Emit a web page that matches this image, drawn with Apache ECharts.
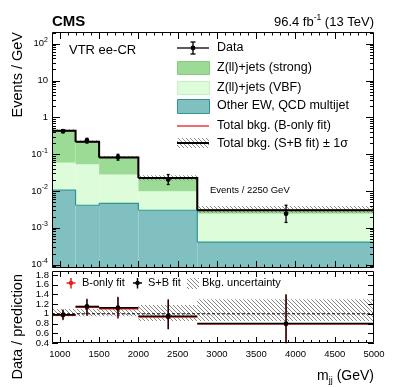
<!DOCTYPE html>
<html>
<head>
<meta charset="utf-8">
<script src="https://cdn.jsdelivr.net/npm/echarts@6/dist/echarts.min.js"></script>
<style>
html, body { margin: 0; padding: 0; background: #fff; }
#main { width: 399px; height: 387px; }
</style>
</head>
<body>
<div id="main"></div>
<script>
// m_jj bin edges (GeV)
var binEdges = [900, 1200, 1500, 2000, 2750, 5000];

// backgrounds after S+B fit, events / GeV (stacked bottom to top)
var otherEW   = [0.0105, 0.0041, 0.0046, 0.0030, 0.00041];
var zllVBF    = [0.0485, 0.049, 0.0235, 0.0068, 0.0020];
var zllStrong = [0.371, 0.163, 0.053, 0.0128, 0.0006];
// total background, B-only fit
var totalBonly = [0.436, 0.219, 0.082, 0.0229, 0.00305];
// S+B fit uncertainty (relative, low / high)
var bandLo = [0.95, 0.95, 0.95, 0.85, 0.85];
var bandHi = [1.10, 1.10, 1.10, 1.18, 1.30];

// data
var dataX  = [1040, 1345, 1740, 2380, 3880];
var dataY  = [0.42, 0.235, 0.083, 0.0205, 0.0024];
var dataUp = [0.46, 0.27, 0.099, 0.028, 0.0041];
var dataDn = [0.38, 0.20, 0.069, 0.015, 0.0014];

// data / prediction
var ratioSB   = [0.98, 1.15, 1.125, 0.95, 0.80];
var ratioSBUp = [1.09, 1.31, 1.35, 1.30, 1.40];
var ratioSBDn = [0.88, 0.97, 0.92, 0.69, 0.40];
var ratioB    = [0.97, 1.135, 1.105, 0.935, 0.79];

// axis ticks
var xLabels = [1000, 1500, 2000, 2500, 3000, 3500, 4000, 4500, 5000];
var yLogMajor = [1e-4, 1e-3, 1e-2, 1e-1, 1, 10, 100];
var ratioTicks = [0.4, 0.6, 0.8, 1.0, 1.2, 1.4, 1.6, 1.8];

var X_MIN = 900, X_MAX = 5000;
var Y_MIN = 8.1e-5, Y_MAX = 208;
var R_MIN = 0.4, R_MAX = 1.88;
var FONT = '"Liberation Sans", Arial, Helvetica, sans-serif';

var C_STRONG = '#9cdb95', C_VBF = '#ddfcda', C_OTHER = '#80c0c0', C_OTHER_LINE = '#2e9494';
var C_RED = '#e3201b';

function hatch(color) {
    var c = document.createElement('canvas');
    c.width = 4; c.height = 4;
    var g = c.getContext('2d');
    g.strokeStyle = color;
    g.lineWidth = 0.9;
    g.beginPath();
    g.moveTo(-1, -1); g.lineTo(5, 5);
    g.moveTo(3, -1); g.lineTo(5, 1);
    g.moveTo(-1, 3); g.lineTo(1, 5);
    g.stroke();
    return c;
}
var HATCH = { image: hatch('#7a7a7a'), repeat: 'repeat' };

// stacked tops
var nb = otherEW.length;
var topOther = [], topVBF = [], topTotal = [];
for (var i = 0; i < nb; i++) {
    topOther.push(otherEW[i]);
    topVBF.push(otherEW[i] + zllVBF[i]);
    topTotal.push(otherEW[i] + zllVBF[i] + zllStrong[i]);
}

function rectData(lows, highs) {
    return lows.map(function (lo, i) {
        return [binEdges[i], binEdges[i + 1], lo, highs[i]];
    });
}

function rectSeries(data, fill, axis, z) {
    return {
        type: 'custom', xAxisIndex: axis, yAxisIndex: axis, z: z, silent: true,
        encode: { x: [0, 1], y: [2, 3] },
        data: data,
        renderItem: function (params, api) {
            var p0 = api.coord([api.value(0), api.value(3)]);
            var p1 = api.coord([api.value(1), api.value(2)]);
            return {
                type: 'rect',
                shape: { x: p0[0], y: p0[1], width: p1[0] - p0[0], height: p1[1] - p0[1] },
                style: { fill: fill }
            };
        }
    };
}

function stepSeries(tops, color, width, axis, z) {
    var data = tops.map(function (t, i) {
        var next = i < tops.length - 1 ? tops[i + 1] : t;
        return [binEdges[i], binEdges[i + 1], t, next];
    });
    return {
        type: 'custom', xAxisIndex: axis, yAxisIndex: axis, z: z, silent: true,
        encode: { x: [0, 1], y: [2, 3] },
        data: data,
        renderItem: function (params, api) {
            var a = api.coord([api.value(0), api.value(2)]);
            var b = api.coord([api.value(1), api.value(2)]);
            var c = api.coord([api.value(1), api.value(3)]);
            return {
                type: 'polyline',
                shape: { points: [a, b, c] },
                style: { stroke: color, lineWidth: width, fill: 'none' }
            };
        }
    };
}

// points with vertical errors; optional horizontal bin-width bar
function pointSeries(xs, ys, lo, hi, color, axis, z, withBins, caps) {
    var data = xs.map(function (x, i) {
        return [x, ys[i], lo[i], hi[i], binEdges[i], binEdges[i + 1]];
    });
    return {
        type: 'custom', xAxisIndex: axis, yAxisIndex: axis, z: z, silent: true,
        encode: { x: 0, y: [1, 2, 3] },
        data: data,
        renderItem: function (params, api) {
            var c = api.coord([api.value(0), api.value(1)]);
            var t = api.coord([api.value(0), api.value(3)]);
            var b = api.coord([api.value(0), api.value(2)]);
            var st = { stroke: color, lineWidth: 1.3 };
            var kids = [
                { type: 'line', shape: { x1: c[0], y1: t[1], x2: c[0], y2: b[1] }, style: st }
            ];
            if (caps) {
                kids.push({ type: 'line', shape: { x1: c[0] - 1.5, y1: t[1], x2: c[0] + 1.5, y2: t[1] }, style: st });
                kids.push({ type: 'line', shape: { x1: c[0] - 1.5, y1: b[1], x2: c[0] + 1.5, y2: b[1] }, style: st });
            }
            if (withBins) {
                var l = api.coord([api.value(4), api.value(1)]);
                var r = api.coord([api.value(5), api.value(1)]);
                kids.push({ type: 'line', shape: { x1: l[0], y1: c[1], x2: r[0], y2: c[1] }, style: { stroke: color, lineWidth: 1.6 } });
            }
            kids.push({ type: 'circle', shape: { cx: c[0], cy: c[1], r: 2.4 }, style: { fill: color } });
            return { type: 'group', children: kids };
        }
    };
}

// ticks and frame: [x, y, kind(0=x tick,1=y tick,2=frame,3=y tick with label), length]
function tickSeries(data, axis) {
    return {
        type: 'custom', xAxisIndex: axis, yAxisIndex: axis, z: 20, silent: true,
        data: data,
        renderItem: function (params, api) {
            var cs = params.coordSys;
            var kind = api.value(2), len = api.value(3);
            var st = { stroke: '#000', lineWidth: 1 };
            if (kind === 2) {
                return { type: 'rect', shape: { x: cs.x + 0.5, y: cs.y + 0.5, width: cs.width - 1, height: cs.height - 1 },
                         style: { fill: 'none', stroke: '#000', lineWidth: 1 } };
            }
            var p = api.coord([api.value(0), api.value(1)]);
            if (kind === 0) {
                var x = Math.round(p[0]) + 0.5, yb = cs.y + cs.height, yt = cs.y;
                return { type: 'group', children: [
                    { type: 'line', shape: { x1: x, y1: yb, x2: x, y2: yb - len }, style: st },
                    { type: 'line', shape: { x1: x, y1: yt, x2: x, y2: yt + len }, style: st }
                ] };
            }
            var y = Math.round(p[1]) + 0.5, xl = cs.x, xr = cs.x + cs.width;
            var kids = [
                { type: 'line', shape: { x1: xl, y1: y, x2: xl + len, y2: y }, style: st },
                { type: 'line', shape: { x1: xr, y1: y, x2: xr - len, y2: y }, style: st }
            ];
            if (kind === 3) {
                var v = api.value(1);
                kids.push({ type: 'text', x: xl - 3, y: p[1], style: {
                    text: Math.abs(v - 1) < 1e-6 ? '1' : v.toFixed(1),
                    font: '9.5px ' + FONT, fill: '#000', align: 'right', verticalAlign: 'middle' } });
            }
            return { type: 'group', children: kids };
        }
    };
}

var ticksTop = [[X_MIN, Y_MIN, 2, 0]], ticksRatio = [[X_MIN, R_MIN, 2, 0]];
for (var xv = 1000; xv < X_MAX; xv += 100) {
    var major = xv % 500 === 0;
    ticksTop.push([xv, Y_MIN, 0, major ? 7 : 3.5]);
    ticksRatio.push([xv, R_MIN, 0, major ? 6 : 3]);
}
yLogMajor.forEach(function (v) {
    ticksTop.push([X_MIN, v, 1, 8]);
    for (var k = 2; k <= 9; k++) {
        if (v * k < Y_MAX) ticksTop.push([X_MIN, v * k, 1, 4]);
    }
});
ticksTop.push([X_MIN, 9e-5, 1, 4]);
ratioTicks.forEach(function (v) { ticksRatio.push([X_MIN, v, 3, 6]); });

var labelFont = { fontFamily: FONT, fontSize: 9.5, color: '#000' };

var option = {
    animation: false,
    backgroundColor: '#fff',
    grid: [
        { left: 52, top: 32, width: 322, height: 236 },
        { left: 52, top: 271, width: 322, height: 72 }
    ],
    xAxis: [
        { gridIndex: 0, type: 'value', min: X_MIN, max: X_MAX,
          axisLine: { show: false }, axisTick: { show: false }, splitLine: { show: false }, axisLabel: { show: false } },
        { gridIndex: 1, type: 'value', min: X_MIN, max: X_MAX,
          axisLine: { show: false }, axisTick: { show: false }, splitLine: { show: false },
          axisLabel: Object.assign({
              customValues: xLabels, margin: 6, showMinLabel: true, showMaxLabel: true, hideOverlap: false,
              formatter: function (v) { return String(Math.round(v)); }
          }, labelFont) }
    ],
    yAxis: [
        { gridIndex: 0, type: 'log', logBase: 10, min: Y_MIN, max: Y_MAX,
          axisLine: { show: false }, axisTick: { show: false }, splitLine: { show: false },
          axisLabel: Object.assign({
              margin: 4,
              formatter: function (v) {
                  var l = Math.log10(v), e = Math.round(l);
                  if (Math.abs(l - e) > 1e-6) return '';
                  if (e === 0) return '1';
                  if (e === 1) return '10';
                  return '{b|10}{s|' + e + '}';
              },
              rich: {
                  b: { fontFamily: FONT, fontSize: 9.5, color: '#000', lineHeight: 14 },
                  s: { fontFamily: FONT, fontSize: 7, color: '#000', lineHeight: 8, verticalAlign: 'top' }
              }
          }, labelFont) },
        { gridIndex: 1, type: 'value', min: R_MIN, max: R_MAX,
          axisLine: { show: false }, axisTick: { show: false }, splitLine: { show: false },
          axisLabel: { show: false } }
    ],
    series: [
        rectSeries(rectData(otherEW.map(function () { return Y_MIN; }), topOther), C_OTHER, 0, 2),
        rectSeries(rectData(topOther, topVBF), C_VBF, 0, 2),
        rectSeries(rectData(topVBF, topTotal), C_STRONG, 0, 2),
        stepSeries(topOther, C_OTHER_LINE, 1.2, 0, 3),
        rectSeries(rectData(topTotal.map(function (t, i) { return t * bandLo[i]; }),
                            topTotal.map(function (t, i) { return t * bandHi[i]; })), HATCH, 0, 4),
        stepSeries(totalBonly, C_RED, 1.2, 0, 5),
        stepSeries(topTotal, '#000', 2, 0, 6),
        pointSeries(dataX, dataY, dataDn, dataUp, '#000', 0, 7, false, true),

        rectSeries(rectData(bandLo, bandHi), HATCH, 1, 2),
        { type: 'line', xAxisIndex: 1, yAxisIndex: 1, z: 3, silent: true, symbol: 'none',
          data: [[X_MIN, 1], [X_MAX, 1]],
          lineStyle: { color: '#000', width: 1, type: [3, 2] } },
        pointSeries(dataX, ratioB, ratioSBDn.map(function (v, i) { return v - (ratioSB[i] - ratioB[i]); }),
                    ratioSBUp.map(function (v, i) { return v - (ratioSB[i] - ratioB[i]); }), C_RED, 1, 5, true, false),
        pointSeries(dataX, ratioSB, ratioSBDn, ratioSBUp, '#000', 1, 6, true, false),

        tickSeries(ticksTop, 0),
        tickSeries(ticksRatio, 1)
    ],
    graphic: [
        { type: 'text', x: 52, y: 22, style: { text: 'CMS', font: 'bold 15px ' + FONT, fill: '#000', align: 'left', verticalAlign: 'middle' } },
        { type: 'text', x: 374, y: 22, style: {
            text: '{t|96.4 fb}{s|-1}{t| (13 TeV)}', align: 'right', verticalAlign: 'middle',
            rich: { t: { fontFamily: FONT, fontSize: 13, fill: '#000', lineHeight: 17 },
                    s: { fontFamily: FONT, fontSize: 8.5, fill: '#000', lineHeight: 9, verticalAlign: 'top' } } } },
        { type: 'text', x: 69, y: 50, style: { text: 'VTR ee-CR', font: '13px ' + FONT, fill: '#000', align: 'left', verticalAlign: 'middle' } },
        { type: 'text', x: 210, y: 190, style: { text: 'Events / 2250 GeV', font: '9.5px ' + FONT, fill: '#000', align: 'left', verticalAlign: 'middle' } },
        { type: 'text', x: 18, y: 32, rotation: Math.PI / 2, style: { text: 'Events / GeV', font: '14.5px ' + FONT, fill: '#000', align: 'right', verticalAlign: 'middle' } },
        { type: 'text', x: 18, y: 274, rotation: Math.PI / 2, style: { text: 'Data / prediction', font: '14.5px ' + FONT, fill: '#000', align: 'right', verticalAlign: 'middle' } },
        { type: 'text', x: 374, y: 376, style: {
            text: '{m|m}{u|jj}{m| (GeV)}', align: 'right', verticalAlign: 'middle',
            rich: { m: { fontFamily: FONT, fontSize: 14, fill: '#000', lineHeight: 18 },
                    u: { fontFamily: FONT, fontSize: 9, fill: '#000', lineHeight: 9, verticalAlign: 'bottom' } } } },

        // main legend
        { type: 'line', shape: { x1: 177, y1: 48, x2: 209, y2: 48 }, style: { stroke: '#000', lineWidth: 1.3 } },
        { type: 'line', shape: { x1: 193, y1: 42, x2: 193, y2: 54 }, style: { stroke: '#000', lineWidth: 1.3 } },
        { type: 'line', shape: { x1: 190.5, y1: 42, x2: 195.5, y2: 42 }, style: { stroke: '#000', lineWidth: 1.3 } },
        { type: 'line', shape: { x1: 190.5, y1: 54, x2: 195.5, y2: 54 }, style: { stroke: '#000', lineWidth: 1.3 } },
        { type: 'circle', shape: { cx: 193, cy: 48, r: 2.4 }, style: { fill: '#000' } },
        { type: 'rect', shape: { x: 177.5, y: 61.5, width: 32, height: 13 }, style: { fill: C_STRONG, stroke: '#86c980', lineWidth: 1 } },
        { type: 'rect', shape: { x: 177.5, y: 81.5, width: 32, height: 13 }, style: { fill: C_VBF, stroke: '#c8eec4', lineWidth: 1 } },
        { type: 'rect', shape: { x: 177.5, y: 99.5, width: 32, height: 14 }, style: { fill: C_OTHER, stroke: C_OTHER_LINE, lineWidth: 1 } },
        { type: 'line', shape: { x1: 177, y1: 126, x2: 209, y2: 126 }, style: { stroke: C_RED, lineWidth: 1.3 } },
        { type: 'rect', shape: { x: 177, y: 138, width: 32, height: 10 }, style: { fill: HATCH } },
        { type: 'line', shape: { x1: 177, y1: 143, x2: 209, y2: 143 }, style: { stroke: '#000', lineWidth: 2 } },
        { type: 'text', x: 217, y: 48, style: { text: 'Data', font: '12.5px ' + FONT, fill: '#000', verticalAlign: 'middle' } },
        { type: 'text', x: 217, y: 68, style: { text: 'Z(ll)+jets (strong)', font: '12.5px ' + FONT, fill: '#000', verticalAlign: 'middle' } },
        { type: 'text', x: 217, y: 88, style: { text: 'Z(ll)+jets (VBF)', font: '12.5px ' + FONT, fill: '#000', verticalAlign: 'middle' } },
        { type: 'text', x: 217, y: 106, style: { text: 'Other EW, QCD multijet', font: '12.5px ' + FONT, fill: '#000', verticalAlign: 'middle' } },
        { type: 'text', x: 217, y: 126, style: { text: 'Total bkg. (B-only fit)', font: '12.5px ' + FONT, fill: '#000', verticalAlign: 'middle' } },
        { type: 'text', x: 217, y: 144, style: { text: 'Total bkg. (S+B fit) \u00b1 1\u03c3', font: '12.5px ' + FONT, fill: '#000', verticalAlign: 'middle' } },

        // ratio legend
        { type: 'line', shape: { x1: 66.5, y1: 283, x2: 75.5, y2: 283 }, style: { stroke: C_RED, lineWidth: 1.5 } },
        { type: 'line', shape: { x1: 71, y1: 278, x2: 71, y2: 288.5 }, style: { stroke: C_RED, lineWidth: 1.5 } },
        { type: 'circle', shape: { cx: 71, cy: 283, r: 2.2 }, style: { fill: C_RED } },
        { type: 'text', x: 82, y: 283, style: { text: 'B-only fit', font: '11px ' + FONT, fill: '#000', verticalAlign: 'middle' } },
        { type: 'line', shape: { x1: 133, y1: 283, x2: 142, y2: 283 }, style: { stroke: '#000', lineWidth: 1.5 } },
        { type: 'line', shape: { x1: 137.5, y1: 278, x2: 137.5, y2: 288.5 }, style: { stroke: '#000', lineWidth: 1.5 } },
        { type: 'circle', shape: { cx: 137.5, cy: 283, r: 2.2 }, style: { fill: '#000' } },
        { type: 'text', x: 148, y: 283, style: { text: 'S+B fit', font: '11px ' + FONT, fill: '#000', verticalAlign: 'middle' } },
        { type: 'rect', shape: { x: 187, y: 278, width: 12, height: 11 }, style: { fill: HATCH } },
        { type: 'text', x: 202, y: 283, style: { text: 'Bkg. uncertainty', font: '11px ' + FONT, fill: '#000', verticalAlign: 'middle' } }
    ]
};

var chart = echarts.init(document.getElementById('main'), null, { renderer: 'canvas' });
chart.setOption(option);
</script>
</body>
</html>
